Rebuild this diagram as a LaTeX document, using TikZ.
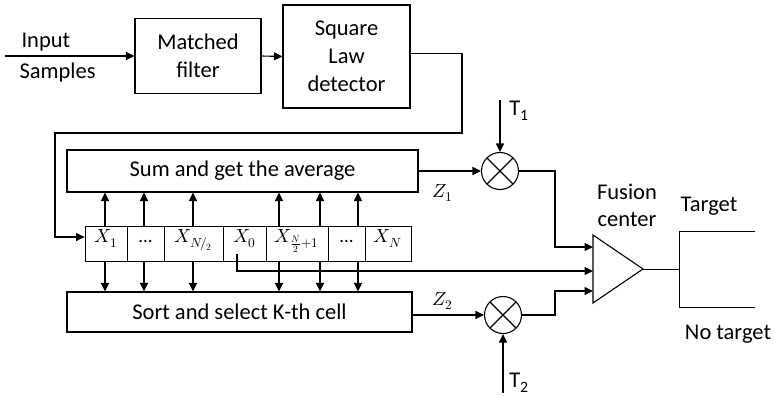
\documentclass[tikz,border=0pt]{standalone}
\usepackage{fontspec}
\usepackage{unicode-math}
\setmainfont{Carlito}
\setmathfont{Latin Modern Math}
\usetikzlibrary{arrows.meta}
\begin{document}
\begin{tikzpicture}[x=1pt,y=-1pt, line width=1.1pt,
  arr/.style={-{Triangle[length=8.5pt,width=8pt]}},
  blk/.style={draw, align=center, inner sep=0pt, font=\fontsize{22.5}{28}\selectfont},
  cell/.style={draw, line width=0.8pt, minimum height=35pt, inner sep=0pt},
  mult/.style={draw, circle, minimum size=37pt, inner sep=0pt,
    path picture={\draw (path picture bounding box.north west)--(path picture bounding box.south east)
                        (path picture bounding box.north east)--(path picture bounding box.south west);}},
  lbl/.style={font=\fontsize{22.5}{27}\selectfont, align=center, inner sep=0pt},
  mlbl/.style={font=\fontsize{19}{21}\selectfont, inner sep=0pt}]
\useasboundingbox (0,0) rectangle (774,396);

% top chain
\node[blk, minimum width=126pt, minimum height=75pt] (mf) at (198,56) {Matched\\filter};
\node[blk, minimum width=127pt, minimum height=103pt] (sl) at (346.5,56.5) {Square\\Law\\detector};
\node[lbl, anchor=base west] (inp) at (21,48) {Input};
\node[lbl, anchor=base west] (smp) at (19,79) {Samples};
\coordinate (in) at (5,56);
\draw[arr] (in) -- (mf.west);
\draw[arr] (mf.east) -- (sl.west);

% blocks
\node[blk, minimum width=351pt, minimum height=42pt] (sum) at (242.5,171) {Sum and get the average};
\node[blk, minimum width=345pt, minimum height=40pt] (sort) at (239.5,312) {Sort and select K-th cell};

% cells
\node[cell, minimum width=42pt] (c1) at (106,243.5) {};
\node[cell, minimum width=37pt] (c2) at (145.5,243.5) {};
\node[cell, minimum width=59pt] (c3) at (193.5,243.5) {};
\node[cell, minimum width=43pt] (c4) at (244.5,243.5) {};
\node[cell, minimum width=62pt] (c5) at (297,243.5) {};
\node[cell, minimum width=37pt] (c6) at (346.5,243.5) {};
\node[cell, minimum width=46pt] (c7) at (388,243.5) {};
\node[mlbl, anchor=base] (t1c) at ([yshift=1pt]c1.center) {$X_1$};
\node[mlbl, anchor=base] (t2c) at ([yshift=1pt]c2.center) {...};
\node[mlbl, anchor=base] (t3c) at ([yshift=1pt]c3.center) {$X_{N\!/_{2}}$};
\node[mlbl, anchor=base] (t4c) at ([yshift=1pt]c4.center) {$X_0$};
\node[mlbl, anchor=base] (t5c) at ([yshift=1pt]c5.center) {$X_{\frac{N}{2}+1}$};
\node[mlbl, anchor=base] (t6c) at ([yshift=1pt]c6.center) {...};
\node[mlbl, anchor=base] (t7c) at ([yshift=1pt]c7.center) {$X_N$};

% feedback
\coordinate (fb1) at (462,133);
\coordinate (fb2) at (55,237);
\draw[arr] ([yshift=3pt]sl.east) -| (fb1) -| (fb2) -- (fb2 -| c1.west);

% up / down arrows
\foreach \xx in {105,144,193,279,320,358}{
  \draw[arr] (\xx,0 |- c1.north) -- (\xx,0 |- sum.south);
  \draw[arr] (\xx,0 |- c1.south) -- (\xx,0 |- sort.north);
}

% multipliers
\node[mult] (m1) at (500,171) {};
\node[mult] (m2) at (503,315) {};
\draw[arr] (sum.east |- m1) -- (m1.west);
\draw[arr] (sort.east |- m2) -- (m2.west);
\node[mlbl] (z1) at (443,193) {$Z_1$};
\node[mlbl] (z2) at (443,301) {$Z_2$};
\coordinate (tt1) at (500,100);
\coordinate (tt2) at (503,393);
\draw[arr] (tt1) -- (m1.north);
\draw[arr] (tt2) -- (m2.south);
\node[lbl] (T1) at (519,111) {T\textsubscript{1}};
\node[lbl] (T2) at (519,383) {T\textsubscript{2}};

% fusion center
\coordinate (fa) at (593,235);
\coordinate (fb) at (593,303);
\coordinate (ft) at (643,269);
\draw (fa) -- (ft) -- (fb) -- cycle;
\coordinate (k1) at (555,247);
\coordinate (fin1) at (593,247);
\coordinate (x0s) at (237,254);
\coordinate (x0k) at (237,271);
\coordinate (fin2) at (593,271);
\coordinate (k3) at (555,291);
\coordinate (fin3) at (593,291);
\draw[arr] (m1.east) -| (k1) -- (fin1);
\draw[arr] (x0s) -- (x0k) -- (fin2);
\draw[arr] (m2.east) -| (k3) -- (fin3);
\node[lbl] (fc) at (627,205) {Fusion\\center};

% outputs
\coordinate (o0) at (679,269);
\coordinate (o1) at (679,231);
\coordinate (o2) at (679,307);
\coordinate (o3) at (755,231);
\coordinate (o4) at (755,307);
\draw[line width=0.9pt] (ft) -- (o0);
\draw[line width=0.9pt] (o3) -- (o1) -- (o2) -- (o4);
\node[lbl] (tg) at (709,206) {Target};
\node[lbl] (ntg) at (728,334) {No target};
\end{tikzpicture}
\end{document}
